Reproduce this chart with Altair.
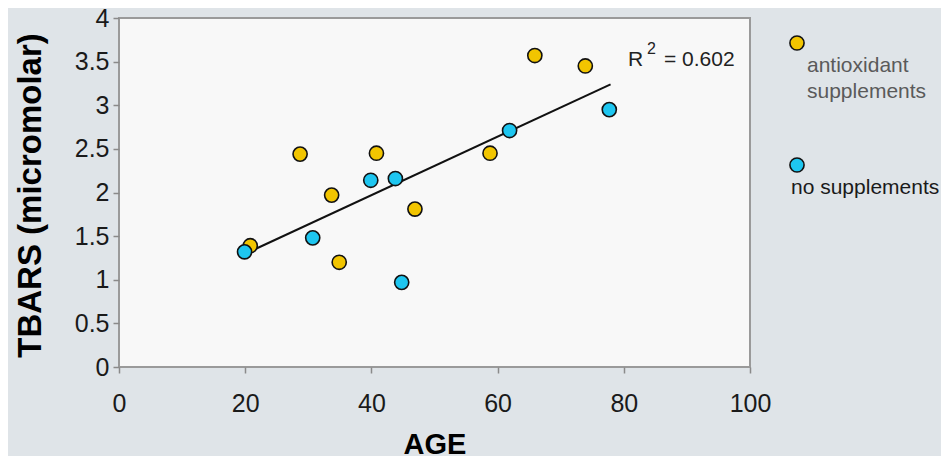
import altair as alt
import pandas as pd

# ---- data ----
anti_age = [20.8, 28.7, 33.7, 34.9, 40.8, 46.9, 58.8, 65.9, 73.9]
anti_tbars = [1.39, 2.44, 1.97, 1.20, 2.45, 1.81, 2.45, 3.57, 3.45]
none_age = [19.9, 30.7, 39.9, 43.8, 44.8, 61.9, 77.7]
none_tbars = [1.32, 1.48, 2.14, 2.16, 0.97, 2.71, 2.95]
fit_age = [21.7, 77.9]
fit_tbars = [1.355, 3.24]
groups = ["antioxidant supplements", "no supplements"]
group_colors = ["#F2C500", "#1EC6F0"]
x_ticks = [0, 20, 40, 60, 80, 100]
y_ticks = [0, 0.5, 1, 1.5, 2, 2.5, 3, 3.5, 4]
r2_text = "= 0.602"

pts = pd.DataFrame({
    "age": anti_age + none_age,
    "tbars": anti_tbars + none_tbars,
    "group": [groups[0]] * len(anti_age) + [groups[1]] * len(none_age),
})
fit = pd.DataFrame({"age": fit_age, "tbars": fit_tbars})

FONT = "Liberation Sans"

x_enc = alt.X("age:Q", scale=alt.Scale(domain=[0, 100], nice=False),
              axis=alt.Axis(values=x_ticks, grid=False, domain=False, tickSize=6,
                            tickColor="#8a8a8a", tickWidth=1.5, labelFlush=False,
                            labelFontSize=25, labelColor="#1a1a1a", labelFont=FONT,
                            labelPadding=18, title="AGE", titleFontSize=29,
                            titleFont=FONT, titleFontWeight="bold", titleColor="#000",
                            titleBaseline="middle", titleY=77))
y_enc = alt.Y("tbars:Q", scale=alt.Scale(domain=[0, 4], nice=False),
              axis=alt.Axis(values=y_ticks, format="~g", grid=False, domain=False,
                            tickSize=6, tickColor="#8a8a8a", tickWidth=1.5,
                            labelFlush=False,
                            labelFontSize=25, labelColor="#1a1a1a", labelFont=FONT,
                            labelPadding=4, title="TBARS (micromolar)",
                            titleFontSize=33, titleFont=FONT, titleFontWeight="bold",
                            titleColor="#000", titleAngle=270, titleBaseline="middle",
                            titleX=-89, titleY=177))

line = alt.Chart(fit).mark_line(color="#111", strokeWidth=2).encode(
    x=x_enc, y=y_enc)

points = alt.Chart(pts).mark_point(filled=True, shape="circle", size=200,
                                   stroke="#111", strokeWidth=1.6, opacity=1).encode(
    x="age:Q", y="tbars:Q",
    fill=alt.Fill("group:N", scale=alt.Scale(domain=groups, range=group_colors),
                  legend=None),
)

one = pd.DataFrame({"k": [0]})

leg_pts = []
for i, yy in enumerate([25, 147]):
    leg_pts.append(alt.Chart(one).mark_point(filled=True, shape="circle", size=200,
                                             fill=group_colors[i], stroke="#111",
                                             strokeWidth=1.6, opacity=1).encode(
        x=alt.value(678), y=alt.value(yy)))

leg_t1 = alt.Chart(one).mark_text(align="left", baseline="middle", fontSize=21,
                                  font=FONT, color="#5a5a5a", lineHeight=26).encode(
    x=alt.value(688), y=alt.value(48), text=alt.value(["antioxidant", "supplements"]))
leg_t2 = alt.Chart(one).mark_text(align="left", baseline="middle", fontSize=21,
                                  font=FONT, color="#1a1a1a").encode(
    x=alt.value(672), y=alt.value(170), text=alt.value("no supplements"))

r_t = alt.Chart(one).mark_text(align="left", baseline="middle", fontSize=21,
                               font=FONT, color="#222").encode(
    x=alt.value(509), y=alt.value(42), text=alt.value("R"))
r_sup = alt.Chart(one).mark_text(align="left", baseline="middle", fontSize=16,
                                 font=FONT, color="#222").encode(
    x=alt.value(528), y=alt.value(31), text=alt.value("2"))
r_val = alt.Chart(one).mark_text(align="left", baseline="middle", fontSize=21,
                                 font=FONT, color="#222").encode(
    x=alt.value(545), y=alt.value(42), text=alt.value(r2_text))

chart = alt.layer(line, points, *leg_pts, leg_t1, leg_t2, r_t, r_sup, r_val).properties(
    width=631, height=349,
    autosize=alt.AutoSizeParams(type="none"),
    padding={"left": 111, "top": 10, "right": 191, "bottom": 89},
    background="#dfe4e8",
).configure_view(fill="#f8f8f8", stroke="#9a9a9a", strokeWidth=2)

chart.save("out.html", embed_options={"renderer": "svg", "actions": False})
